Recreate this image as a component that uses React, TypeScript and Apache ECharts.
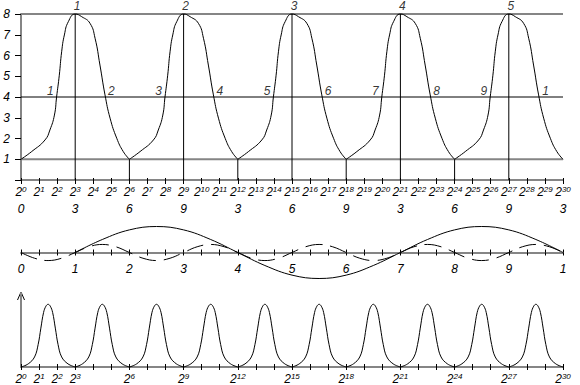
import React, { useEffect, useRef } from 'react';
import * as echarts from 'echarts';

// ---------- data ----------
// top panel (x = exponent of 2)
const peakExps = [3, 9, 15, 21, 27];
const troughExps = [6, 12, 18, 24];
const peakLabels = ['1', '2', '3', '4', '5'];
// one hump measured around a peak: [offset in exponent, value]
const humpProfile: [number, number][] = [
  [-3, 1], [-2.41, 1.37], [-1.67, 1.93], [-1.4, 2.41], [-1.15, 3.13], [-1.03, 4.0],
  [-0.88, 5.05], [-0.75, 6.18], [-0.6, 6.99], [-0.38, 7.63], [0, 8],
  [0.36, 7.87], [0.82, 7.55], [1.1, 6.83], [1.37, 5.54], [1.65, 4.1],
  [1.93, 2.98], [2.3, 2.01], [2.66, 1.37], [3, 1],
];
const levelLines = [1, 4, 8];
const crossExps = [1.97, 4.65, 7.97, 10.65, 13.97, 16.65, 19.97, 22.65, 25.97, 28.68];
const crossLabels = ['1', '2', '3', '4', '5', '6', '7', '8', '9', '1'];
const crossSides = ['left', 'right', 'left', 'right', 'left', 'right', 'left', 'right', 'left', 'right'];
const digitRowLabels = ['0', '3', '6', '9', '3', '6', '9', '3', '6', '9', '3'];

// middle panel
const waveLabels = ['0', '1', '2', '3', '4', '5', '6', '7', '8', '9', '1'];
const solidStart = 3;
const solidStep = 1.5;
const solidWave = [0, 0.5, 0.87, 1, 0.87, 0.5, 0, -0.5, -0.87, -1, -0.87, -0.5, 0, 0.5, 0.87, 1, 0.87, 0.5, 0];
const dashedStep = 0.75;
const dashedWave = [
  0, -0.22, -0.31, -0.22, 0, 0.22, 0.31, 0.22,
  0, -0.22, -0.31, -0.22, 0, 0.22, 0.31, 0.22,
  0, -0.22, -0.31, -0.22, 0, 0.22, 0.31, 0.22,
  0, -0.22, -0.31, -0.22, 0, 0.22, 0.31, 0.22,
  0, -0.22, -0.31, -0.22, 0, 0.22, 0.31, 0.22,
  0,
];

// bottom panel
const bellPeaks = [1.5, 4.5, 7.5, 10.5, 13.5, 16.5, 19.5, 22.5, 25.5, 28.5];
const bellProfile: [number, number][] = [
  [-1.5, 0], [-1.1, 0.05], [-0.75, 0.16], [-0.55, 0.36], [-0.4, 0.62], [-0.25, 0.87],
  [-0.12, 0.97], [0, 1], [0.12, 0.97], [0.25, 0.87], [0.4, 0.62], [0.55, 0.36],
  [0.75, 0.16], [1.1, 0.05], [1.5, 0],
];
const bottomLabelExps = [0, 1, 2, 3, 6, 9, 12, 15, 18, 21, 24, 27, 30];

// ---------- styling ----------
const FONT = 'Liberation Sans';
const GRAY = '#858585';
const BLACK = '#000';
const rich = {
  b: { fontSize: 12, fontStyle: 'italic', fontFamily: FONT, color: BLACK },
  s: { fontSize: 8, fontStyle: 'italic', fontFamily: FONT, color: BLACK, verticalAlign: 'top', padding: [0, 0, 6, 0] },
};
const powLabel = (n: number) => `{b|2}{s|${n}}`;
const txt = { fontSize: 12, fontStyle: 'italic', fontFamily: FONT, color: BLACK };

function buildOption(): any {
  const baseX = { type: 'value', min: 0, max: 30, interval: 1, position: 'bottom', splitLine: { show: false } };
  const noLine = { show: false, onZero: false };
  const xAxis = [
    {
      ...baseX, gridIndex: 0,
      axisLine: { show: true, onZero: false, lineStyle: { color: GRAY, width: 2 } },
      axisTick: { show: true, length: 4, lineStyle: { color: BLACK } },
      axisLabel: { formatter: (v: number) => powLabel(v), margin: 5, rich },
    },
    {
      ...baseX, gridIndex: 0,
      axisLine: noLine,
      axisTick: { show: true, inside: true, length: 2, lineStyle: { color: BLACK } },
      axisLabel: { show: false },
    },
    {
      ...baseX, gridIndex: 0, interval: 3,
      axisLine: noLine, axisTick: { show: false },
      axisLabel: { ...txt, margin: 23, formatter: (v: number) => digitRowLabels[Math.round(v / 3)] ?? '' },
    },
    {
      ...baseX, gridIndex: 1,
      axisLine: { show: true, onZero: false, lineStyle: { color: GRAY, width: 2 } },
      axisTick: { show: true, length: 3, lineStyle: { color: BLACK } },
      axisLabel: { ...txt, margin: 10, formatter: (v: number) => (v % 3 === 0 ? waveLabels[v / 3] : '') },
    },
    {
      ...baseX, gridIndex: 1,
      axisLine: noLine,
      axisTick: { show: true, inside: true, length: 3, lineStyle: { color: BLACK } },
      axisLabel: { show: false },
    },
    {
      ...baseX, gridIndex: 2,
      axisLine: { show: true, onZero: false, lineStyle: { color: GRAY, width: 2 } },
      axisTick: { show: true, length: 3, lineStyle: { color: BLACK } },
      axisLabel: { margin: 5, rich, formatter: (v: number) => (bottomLabelExps.includes(v) ? powLabel(v) : '') },
    },
    {
      ...baseX, gridIndex: 2,
      axisLine: noLine,
      axisTick: { show: true, inside: true, length: 3, lineStyle: { color: BLACK } },
      axisLabel: { show: false },
    },
  ];
  const yAxis = [
    {
      type: 'value', gridIndex: 0, min: 0, max: 8, interval: 1, position: 'left', splitLine: { show: false },
      axisLine: { show: true, onZero: false, lineStyle: { color: GRAY, width: 2 } },
      axisTick: { show: true, length: 6, lineStyle: { color: BLACK } },
      axisLabel: { ...txt, margin: 11, formatter: (v: number) => (v === 0 ? '' : String(v)) },
    },
    { type: 'value', gridIndex: 1, min: 0, max: 1.25, show: false },
    {
      type: 'value', gridIndex: 2, min: 0, max: 1.18, position: 'left', splitLine: { show: false },
      axisLine: { show: true, onZero: false, lineStyle: { color: GRAY, width: 2 } },
      axisTick: { show: false }, axisLabel: { show: false },
    },
  ];

  const line = (data: number[][], xi: number, yi: number, style: any, smooth: any = false) => ({
    type: 'line', xAxisIndex: xi, yAxisIndex: yi, data, symbol: 'none', smooth,
    clip: false, silent: true, lineStyle: style,
  });

  const series: any[] = [];
  // level lines
  levelLines.forEach((y) => {
    const style = y === 4 ? { color: BLACK, width: 1 } : { color: GRAY, width: 2 };
    series.push(line([[0, y], [30, y]], 0, 0, style));
  });
  // vertical lines
  peakExps.forEach((p) => series.push(line([[p, 0], [p, 8]], 0, 0, { color: BLACK, width: 1 })));
  troughExps.forEach((t) => series.push(line([[t, 0], [t, 1]], 0, 0, { color: BLACK, width: 1 })));
  // humps
  peakExps.forEach((p) =>
    series.push(line(humpProfile.map(([d, v]) => [p + d, v]), 0, 0, { color: BLACK, width: 1 }, 0.5))
  );
  // peak labels
  series.push({
    type: 'scatter', xAxisIndex: 0, yAxisIndex: 0, symbolSize: 0, silent: true, clip: false,
    data: peakExps.map((p, i) => ({ value: [p, 8], label: { formatter: peakLabels[i] } })),
    label: { show: true, position: 'top', distance: 2, offset: [2, 0], ...txt },
  });
  // crossing labels
  series.push({
    type: 'scatter', xAxisIndex: 0, yAxisIndex: 0, symbolSize: 0, silent: true, clip: false,
    data: crossExps.map((c, i) => ({
      value: [c, 4],
      label: { formatter: crossLabels[i], position: crossSides[i], offset: [0, -6] },
    })),
    label: { show: true, distance: 3, ...txt },
  });
  // middle waves
  series.push(line(solidWave.map((v, i) => [solidStart + i * solidStep, v]), 3, 1, { color: BLACK, width: 1 }, 0.4));
  series.push(line(dashedWave.map((v, i) => [i * dashedStep, v]), 3, 1, { color: BLACK, width: 1, type: [17, 8] }, 0.4));
  // bottom bells
  bellPeaks.forEach((p) =>
    series.push(line(bellProfile.map(([d, v]) => [p + d, v]), 5, 2, { color: BLACK, width: 1 }, 0.4))
  );

  return {
    animation: false,
    backgroundColor: '#fff',
    grid: [
      { left: 21, right: 17, top: 14, bottom: 205 },
      { left: 21, right: 17, top: 220, bottom: 132.5 },
      { left: 21, right: 17, top: 293, bottom: 15 },
    ],
    xAxis, yAxis, series,
    graphic: [
      {
        type: 'polyline', silent: true,
        shape: { points: [[17.5, 300], [21, 292], [24.5, 300]] },
        style: { stroke: BLACK, lineWidth: 1, fill: 'none' },
      },
    ],
  };
}

export default function App() {
  const ref = useRef<HTMLDivElement>(null);
  useEffect(() => {
    if (!ref.current) return;
    const chart = echarts.init(ref.current, undefined, { renderer: 'svg' });
    chart.setOption(buildOption());
    return () => chart.dispose();
  }, []);
  return <div ref={ref} style={{ width: 580, height: 385, position: 'absolute', left: 0, top: 0 }} />;
}
